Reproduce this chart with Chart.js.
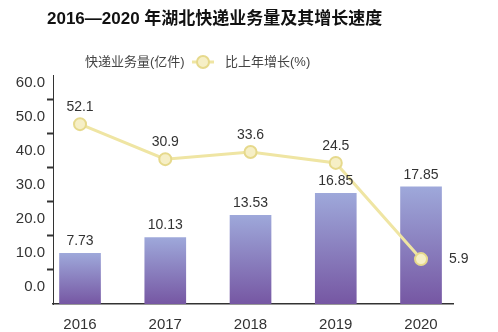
<!DOCTYPE html>
<html>
<head>
<meta charset="utf-8">
<script src="https://cdn.jsdelivr.net/npm/chart.js@4/dist/chart.umd.min.js"></script>
<style>
  html, body { margin: 0; padding: 0; background: #ffffff; }
  canvas { display: block; }
</style>
</head>
<body>
<canvas id="c" width="498" height="332"></canvas>
<script>
// ---- data ----
const titleText = '2016—2020 年湖北快递业务量及其增长速度';
const years = [2016, 2017, 2018, 2019, 2020];
const volume = [7.73, 10.13, 13.53, 16.85, 17.85];          // 快递业务量(亿件)
const growthRate = [52.1, 30.9, 33.6, 24.5, 5.9];           // 比上年增长(%) printed values
const growthOnAxis = [47.9, 37.6, 39.7, 36.5, 8.2];         // point heights as read against the left axis
const yTickValues = [0, 5, 10, 15, 20, 25, 30, 35, 40, 45, 50, 55, 60];
const seriesNames = ['快递业务量(亿件)', '比上年增长(%)'];

const FONT = '"Liberation Sans", "Noto Sans CJK SC", Arial, sans-serif';
const lineColor = '#efe5a3';
const pointFill = '#f6efc6';
const pointBorder = '#e6d98c';

function barGradient(ctx) {
  const chart = ctx.chart;
  const area = chart.chartArea;
  if (!area || ctx.type !== 'data') return '#8a80c0';
  const y2 = chart.scales.y2;
  const top = y2.getPixelForValue(ctx.raw.y);
  const g = chart.ctx.createLinearGradient(0, top, 0, area.bottom);
  g.addColorStop(0, '#9ea8da');
  g.addColorStop(1, '#7657a3');
  return g;
}

const labelPlugin = {
  id: 'valueLabels',
  afterDatasetsDraw(chart) {
    const c = chart.ctx;
    c.save();
    c.font = '14px ' + FONT;
    c.fillStyle = '#333';
    c.textBaseline = 'middle';
    c.textAlign = 'center';
    chart.getDatasetMeta(1).data.forEach((el, i) => {
      c.fillText(String(volume[i]), el.x, el.y - 12);
    });
    chart.getDatasetMeta(0).data.forEach((el, i) => {
      if (i === growthRate.length - 1) {
        c.textAlign = 'left';
        c.fillText(growthRate[i].toFixed(1), el.x + 28, el.y);
        c.textAlign = 'center';
      } else {
        c.fillText(growthRate[i].toFixed(1), el.x, el.y - 17);
      }
    });
    c.restore();
  }
};

const headerPlugin = {
  id: 'header',
  afterDraw(chart) {
    const c = chart.ctx;
    c.save();
    c.textBaseline = 'middle';
    c.textAlign = 'left';
    c.fillStyle = '#111';
    c.font = 'bold 17px ' + FONT;
    c.fillText(titleText, 47, 19);
    // legend
    c.font = '13px ' + FONT;
    c.fillStyle = '#444';
    c.fillText(chart.data.datasets[1].label, 85, 62);
    c.strokeStyle = lineColor;
    c.lineWidth = 3;
    c.beginPath(); c.moveTo(192, 62); c.lineTo(214, 62); c.stroke();
    c.beginPath(); c.arc(203, 62, 6, 0, Math.PI * 2);
    c.fillStyle = pointFill; c.fill();
    c.lineWidth = 2; c.strokeStyle = pointBorder; c.stroke();
    c.fillStyle = '#444';
    c.fillText(chart.data.datasets[0].label, 225, 62);
    c.restore();
  }
};

new Chart(document.getElementById('c'), {
  data: {
    datasets: [
      {
        type: 'line',
        label: seriesNames[1],
        data: years.map((x, i) => ({ x: x, y: growthOnAxis[i] })),
        yAxisID: 'y',
        borderColor: lineColor,
        borderWidth: 3,
        tension: 0,
        pointRadius: 6,
        pointBackgroundColor: pointFill,
        pointBorderColor: pointBorder,
        pointBorderWidth: 2,
        order: 0
      },
      {
        type: 'bar',
        label: seriesNames[0],
        data: years.map((x, i) => ({ x: x, y: volume[i] })),
        yAxisID: 'y2',
        backgroundColor: barGradient,
        barThickness: 41,
        borderWidth: 0,
        order: 1
      }
    ]
  },
  options: {
    responsive: false,
    animation: false,
    layout: { padding: { top: 75, right: 45, left: 0, bottom: 0 } },
    plugins: {
      legend: { display: false },
      title: { display: false },
      tooltip: { enabled: false }
    },
    scales: {
      x: {
        type: 'linear',
        offset: false,
        min: 2015.683,
        max: 2020.375,
        afterBuildTicks: (axis) => { axis.ticks = years.map(v => ({ value: v })); },
        afterFit: (axis) => { axis.height = 28; },
        ticks: {
          callback: (v) => String(v),
          color: '#333',
          font: { family: FONT, size: 15 },
          padding: 4,
          maxRotation: 0,
          autoSkip: false
        },
        grid: { display: false, offset: false },
        border: { display: true, color: '#333', width: 1.5 }
      },
      y: {
        type: 'linear',
        position: 'left',
        min: -5,
        max: 62.35,
        afterBuildTicks: (axis) => { axis.ticks = yTickValues.map(v => ({ value: v })); },
        afterFit: (axis) => { axis.width = 53; },
        ticks: {
          callback: (v) => (v % 10 === 0 ? v.toFixed(1) : ''),
          color: '#333',
          font: { family: FONT, size: 15 },
          padding: 2,
          autoSkip: false
        },
        grid: {
          display: true,
          drawOnChartArea: false,
          drawTicks: true,
          tickLength: 6,
          tickWidth: 2,
          tickColor: (ctx) => (ctx.tick && ctx.tick.value % 10 !== 0 ? '#333' : 'rgba(0,0,0,0)')
        },
        border: { display: true, color: '#333', width: 1 }
      },
      y2: {
        type: 'linear',
        display: false,
        min: 0,
        max: 34.9
      }
    }
  },
  plugins: [labelPlugin, headerPlugin]
});
</script>
</body>
</html>
